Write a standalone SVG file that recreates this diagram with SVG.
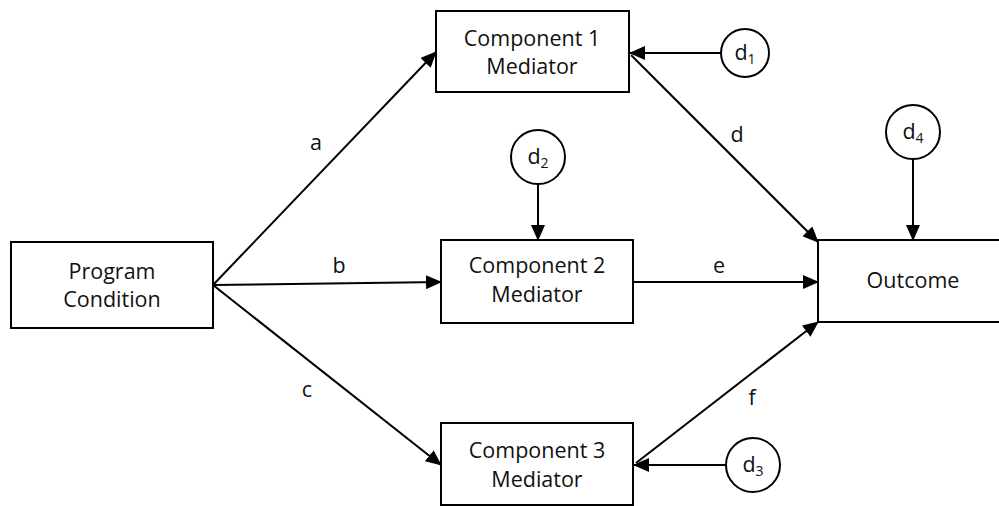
<svg xmlns="http://www.w3.org/2000/svg" width="999" height="506" viewBox="0 0 999 506">
<style>
.box{fill:#fff;stroke:#000;stroke-width:2}
.circ{fill:#fff;stroke:#000;stroke-width:2}
.t{font-family:"Open Sans","Liberation Sans",sans-serif;font-size:21.5px;fill:#111;text-anchor:middle}
.lbl{font-family:"Open Sans","Liberation Sans",sans-serif;font-size:21.5px;fill:#111;text-anchor:middle}
.sub{font-size:14px}
.c line{stroke:#000;stroke-width:2;marker-end:url(#ah)}
</style>
<defs>
<marker id="ah" markerWidth="16" markerHeight="14" refX="15" refY="7" orient="auto" markerUnits="userSpaceOnUse">
<path d="M0,0 L16,7 L0,14 Z" fill="#000"/>
</marker>
</defs>
<rect width="999" height="506" fill="#fff"/>
<g class="c" id="connectors">
<line x1="213" y1="285" x2="436" y2="52"/>
<line x1="213" y1="285" x2="441" y2="282"/>
<line x1="213" y1="285" x2="441" y2="465"/>
<line x1="631" y1="55" x2="818" y2="242"/>
<line x1="633" y1="282" x2="818" y2="282"/>
<line x1="636" y1="463" x2="818" y2="322"/>
<line x1="721" y1="53" x2="630" y2="53"/>
<line x1="538" y1="184" x2="538" y2="240"/>
<line x1="726" y1="465" x2="634" y2="465"/>
<line x1="913" y1="158" x2="913" y2="240"/>
</g>
<g id="labels">
<text class="lbl" x="316" y="150">a</text>
<text class="lbl" x="339" y="273">b</text>
<text class="lbl" x="307" y="397">c</text>
<text class="lbl" x="737" y="142">d</text>
<text class="lbl" x="719" y="273">e</text>
<text class="lbl" x="752" y="405">f</text>
</g>
<g id="program">
<rect class="box" x="11" y="242" width="202" height="86"/>
<text class="t" x="112" y="279">Program</text>
<text class="t" x="112" y="307">Condition</text>
</g>
<g id="comp1">
<rect class="box" x="436" y="11" width="193" height="81"/>
<text class="t" x="532" y="46">Component 1</text>
<text class="t" x="532" y="74">Mediator</text>
</g>
<g id="comp2">
<rect class="box" x="441" y="240" width="192" height="83"/>
<text class="t" x="537" y="273">Component 2</text>
<text class="t" x="537" y="302">Mediator</text>
</g>
<g id="comp3">
<rect class="box" x="441" y="423" width="192" height="82"/>
<text class="t" x="537" y="458">Component 3</text>
<text class="t" x="537" y="487">Mediator</text>
</g>
<g id="outcome">
<rect class="box" x="818" y="240" width="190" height="82"/>
<text class="t" x="913" y="288">Outcome</text>
</g>
<g id="d1">
<circle class="circ" cx="745" cy="53" r="24"/>
<text class="t" x="745" y="60">d<tspan class="sub" dy="4">1</tspan></text>
</g>
<g id="d2">
<circle class="circ" cx="538" cy="157" r="27"/>
<text class="t" x="538" y="164">d<tspan class="sub" dy="4">2</tspan></text>
</g>
<g id="d3">
<circle class="circ" cx="753" cy="465" r="27"/>
<text class="t" x="753" y="472">d<tspan class="sub" dy="4">3</tspan></text>
</g>
<g id="d4">
<circle class="circ" cx="913" cy="132" r="27"/>
<text class="t" x="913" y="139">d<tspan class="sub" dy="4">4</tspan></text>
</g>
</svg>
